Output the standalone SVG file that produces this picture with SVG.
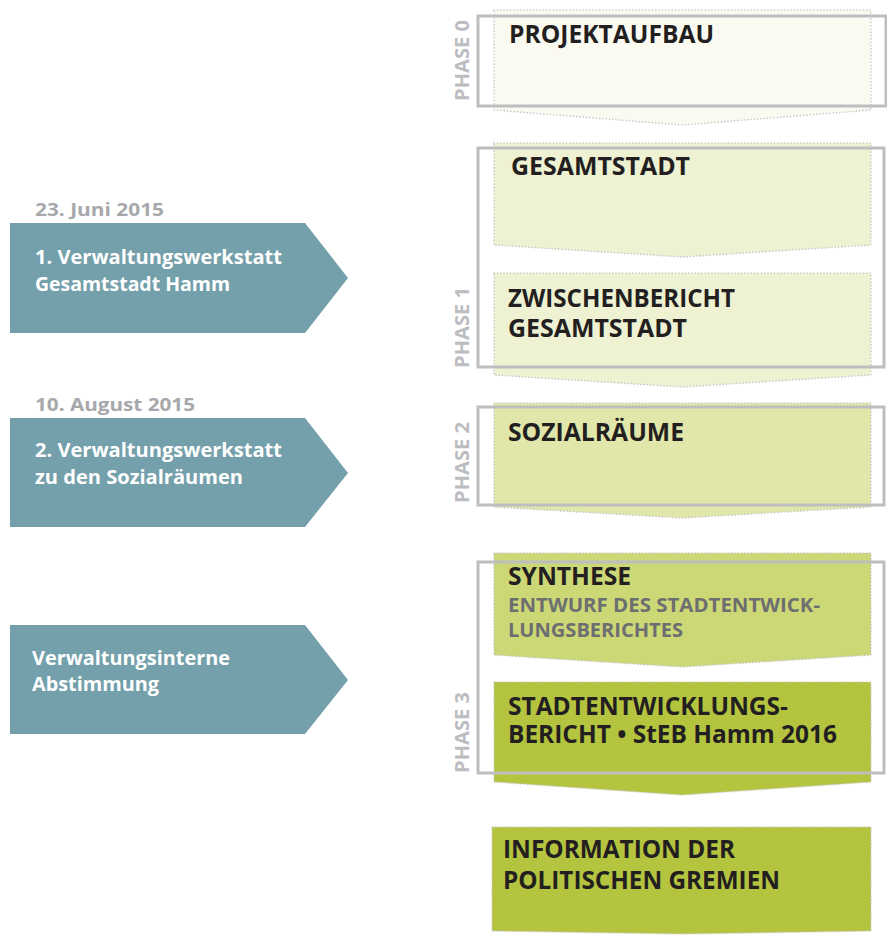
<svg xmlns="http://www.w3.org/2000/svg" width="887" height="937" viewBox="0 0 887 937">
  <style>
    .lbl { font-family: "Open Sans", "Liberation Sans", sans-serif; font-weight: bold; }
    .main { font-size: 24.5px; fill: #231f20; }
    .sub { font-size: 20px; fill: #6d6e70; }
    .phase { font-size: 20px; fill: #bcbdc0; }
    .date { font-size: 18.5px; fill: #a7a8ab; }
    .arrtxt { font-size: 20px; fill: #ffffff; }
    .block { stroke: #c6c7c9; stroke-width: 1.6; stroke-dasharray: 0.1 3.2; stroke-linecap: round; }
    .frame { fill: none; stroke: #bdbec0; stroke-width: 3; }
    .arrow { fill: #74a0ab; }
  </style>

  <!-- workshop arrows on the left -->
  <g id="werkstatt1">
    <text class="lbl date" x="35" y="216" textLength="129" lengthAdjust="spacingAndGlyphs">23. Juni 2015</text>
    <path class="arrow" d="M10,223 H305 L348,278 L305,333 H10 Z"/>
    <text class="lbl arrtxt" x="35" y="264" textLength="247" lengthAdjust="spacingAndGlyphs">1. Verwaltungswerkstatt</text>
    <text class="lbl arrtxt" x="35" y="291" textLength="195" lengthAdjust="spacingAndGlyphs">Gesamtstadt Hamm</text>
  </g>
  <g id="werkstatt2">
    <text class="lbl date" x="35" y="411" textLength="160" lengthAdjust="spacingAndGlyphs">10. August 2015</text>
    <path class="arrow" d="M10,418 H305 L348,473 L305,527 H10 Z"/>
    <text class="lbl arrtxt" x="35" y="457" textLength="247" lengthAdjust="spacingAndGlyphs">2. Verwaltungswerkstatt</text>
    <text class="lbl arrtxt" x="35" y="484" textLength="208" lengthAdjust="spacingAndGlyphs">zu den Sozialräumen</text>
  </g>
  <g id="abstimmung">
    <path class="arrow" d="M10,625 H305 L348,680 L305,734 H10 Z"/>
    <text class="lbl arrtxt" x="32" y="665" textLength="198" lengthAdjust="spacingAndGlyphs">Verwaltungsinterne</text>
    <text class="lbl arrtxt" x="32" y="691" textLength="127" lengthAdjust="spacingAndGlyphs">Abstimmung</text>
  </g>

  <!-- process blocks -->
  <g id="projektaufbau">
    <path class="block" fill="#fafaf1" d="M494,10 H871 V110 L682,125 L494,110 Z"/>
    <text class="lbl main" x="509" y="43" textLength="205" lengthAdjust="spacingAndGlyphs">PROJEKTAUFBAU</text>
  </g>
  <g id="gesamtstadt">
    <path class="block" fill="#eef1d2" d="M494,143 H871 V245 L682,257 L494,245 Z"/>
    <text class="lbl main" x="511" y="175" textLength="179" lengthAdjust="spacingAndGlyphs">GESAMTSTADT</text>
  </g>
  <g id="zwischenbericht">
    <path class="block" fill="#eef1d2" d="M494,273 H871 V375 L682,387 L494,375 Z"/>
    <text class="lbl main" x="508" y="307" textLength="227" lengthAdjust="spacingAndGlyphs">ZWISCHENBERICHT</text>
    <text class="lbl main" x="508" y="337" textLength="179" lengthAdjust="spacingAndGlyphs">GESAMTSTADT</text>
  </g>
  <g id="sozialraeume">
    <path class="block" fill="#e1e7aa" d="M494,403 H871 V507 L682,518 L494,507 Z"/>
    <text class="lbl main" x="508" y="441" textLength="176" lengthAdjust="spacingAndGlyphs">SOZIALRÄUME</text>
  </g>
  <g id="synthese">
    <path class="block" fill="#ccd776" d="M494,553 H871 V655 L682,667 L494,655 Z"/>
    <text class="lbl main" x="508" y="585" textLength="123" lengthAdjust="spacingAndGlyphs">SYNTHESE</text>
    <text class="lbl sub" x="508" y="612" textLength="312" lengthAdjust="spacingAndGlyphs">ENTWURF DES STADTENTWICK-</text>
    <text class="lbl sub" x="508" y="637" textLength="175" lengthAdjust="spacingAndGlyphs">LUNGSBERICHTES</text>
  </g>
  <g id="steb">
    <path class="block" fill="#b5c43f" d="M494,682 H871 V782 L682,795 L494,782 Z"/>
    <text class="lbl main" x="508" y="715" textLength="280" lengthAdjust="spacingAndGlyphs">STADTENTWICKLUNGS-</text>
    <text class="lbl main" x="508" y="743" textLength="329" lengthAdjust="spacingAndGlyphs">BERICHT • StEB Hamm 2016</text>
  </g>
  <g id="gremien">
    <path class="block" fill="#b5c43f" d="M492,827 H871 V931 L682,934 L492,931 Z"/>
    <text class="lbl main" x="503" y="858" textLength="232" lengthAdjust="spacingAndGlyphs">INFORMATION DER</text>
    <text class="lbl main" x="503" y="889" textLength="277" lengthAdjust="spacingAndGlyphs">POLITISCHEN GREMIEN</text>
  </g>

  <!-- phase frames drawn over the blocks -->
  <g id="phasen">
    <rect class="frame" x="478" y="16" width="408" height="90"/>
    <rect class="frame" x="478" y="148" width="406" height="219"/>
    <rect class="frame" x="478" y="407" width="406" height="98"/>
    <rect class="frame" x="478" y="562" width="406" height="211"/>
    <text class="lbl phase" transform="translate(469,101) rotate(-90)" textLength="81" lengthAdjust="spacingAndGlyphs">PHASE 0</text>
    <text class="lbl phase" transform="translate(469,368) rotate(-90)" textLength="81" lengthAdjust="spacingAndGlyphs">PHASE 1</text>
    <text class="lbl phase" transform="translate(469,503) rotate(-90)" textLength="81" lengthAdjust="spacingAndGlyphs">PHASE 2</text>
    <text class="lbl phase" transform="translate(469,773) rotate(-90)" textLength="81" lengthAdjust="spacingAndGlyphs">PHASE 3</text>
  </g>
</svg>
